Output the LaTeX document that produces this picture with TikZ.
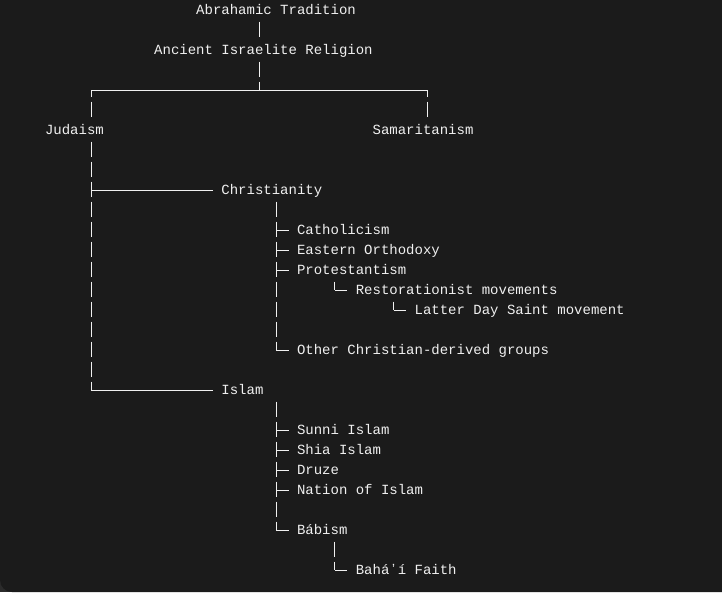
\documentclass[tikz,border=0pt]{standalone}
\usepackage{fontspec}
\newfontfamily\mono{Liberation Mono}
\usetikzlibrary{calc}
\definecolor{bgdark}{HTML}{1B1B1B}
\definecolor{bgout}{HTML}{2B2B2B}
\definecolor{fg}{HTML}{F0F0F0}
\begin{document}
\begin{tikzpicture}[x=1pt,y=-1pt,
  lbl/.style={anchor=base west,inner sep=0pt,outer sep=0pt,font=\mono\fontsize{14pt}{20pt}\selectfont,text=fg},
  conn/.style={draw=fg,line width=1pt},
  vconn/.style={conn,dash pattern=on 15.3pt off 4.7pt},
  vconnh/.style={vconn,dash phase=8.5pt}]
\useasboundingbox (0,0) rectangle (722,592);
\fill[bgout] (0,0) rectangle (722,592);
\fill[bgdark,rounded corners=12pt] (0,-30) rectangle (752,592);

% labels
\node[lbl] (abr)  at (196.2,14.3)  {Abrahamic Tradition};
\node[lbl] (anc)  at (154.2,54.3)  {Ancient Israelite Religion};
\node[lbl] (jud)  at (45,134.3)    {Judaism};
\node[lbl] (sam)  at (372.6,134.3) {Samaritanism};
\node[lbl] (chr)  at (221.4,194.3) {Christianity};
\node[lbl] (cath) at (297,234.3)   {Catholicism};
\node[lbl] (eo)   at (297,254.3)   {Eastern Orthodoxy};
\node[lbl] (prot) at (297,274.3)   {Protestantism};
\node[lbl] (res)  at (355.8,294.3) {Restorationist movements};
\node[lbl] (lds)  at (414.6,314.3) {Latter Day Saint movement};
\node[lbl] (oth)  at (297,354.3)   {Other Christian-derived groups};
\node[lbl] (isl)  at (221.4,394.3) {Islam};
\node[lbl] (sun)  at (297,434.3)   {Sunni Islam};
\node[lbl] (shi)  at (297,454.3)   {Shia Islam};
\node[lbl] (dru)  at (297,474.3)   {Druze};
\node[lbl] (noi)  at (297,494.3)   {Nation of Islam};
\node[lbl] (bab)  at (297,534.3)   {Bábism};
\node[lbl] (bah)  at (355.8,574.3) {Baháʼí Faith};

% Abrahamic -> Ancient
\draw[vconn] ($(abr.base west)+(63,7.2)$) -- ($(anc.base west)+(105,-17.5)$);
% Ancient -> Judaism / Samaritanism
\draw[vconn] ($(anc.base west)+(105,7.2)$) -- ($(jud.base west)+(214.2,-44.3)$);
\draw[conn] ($(jud.base west)+(46.2,-44.3)$) -- ($(sam.base west)+(54.6,-44.3)$);
\draw[vconnh] ($(jud.base west)+(46.2,-44.3)$) -- ($(jud.base west)+(46.2,-17.5)$);
\draw[vconnh] ($(sam.base west)+(54.6,-44.3)$) -- ($(sam.base west)+(54.6,-17.5)$);
% Judaism -> Christianity / Islam
\draw[vconn] ($(jud.base west)+(46.2,7.2)$) -- ($(isl.base west)+(-130.2,-4.3)$);
\draw[conn] ($(chr.base west)+(-130.2,-4.3)$) -- ($(chr.base west)+(-8.4,-4.3)$);
\draw[conn] ($(isl.base west)+(-130.2,-4.3)$) -- ($(isl.base west)+(-8.4,-4.3)$);
% Christianity subtree
\draw[vconn] ($(chr.base west)+(54.6,7.2)$) -- ($(oth.base west)+(-21,-4.3)$);
\foreach \c in {cath,eo,prot,oth}
  \draw[conn] ($(\c.base west)+(-21,-4.3)$) -- ($(\c.base west)+(-8.4,-4.3)$);
\draw[vconn] ($(prot.base west)+(37.8,7.2)$) -- ($(res.base west)+(-21,-4.3)$);
\draw[conn] ($(res.base west)+(-21,-4.3)$) -- ($(res.base west)+(-8.4,-4.3)$);
\draw[vconn] ($(res.base west)+(37.8,7.2)$) -- ($(lds.base west)+(-21,-4.3)$);
\draw[conn] ($(lds.base west)+(-21,-4.3)$) -- ($(lds.base west)+(-8.4,-4.3)$);
% Islam subtree
\draw[vconn] ($(isl.base west)+(54.6,7.2)$) -- ($(bab.base west)+(-21,-4.3)$);
\foreach \c in {sun,shi,dru,noi,bab}
  \draw[conn] ($(\c.base west)+(-21,-4.3)$) -- ($(\c.base west)+(-8.4,-4.3)$);
\draw[vconn] ($(bab.base west)+(37.8,7.2)$) -- ($(bah.base west)+(-21,-4.3)$);
\draw[conn] ($(bah.base west)+(-21,-4.3)$) -- ($(bah.base west)+(-8.4,-4.3)$);
\end{tikzpicture}
\end{document}
